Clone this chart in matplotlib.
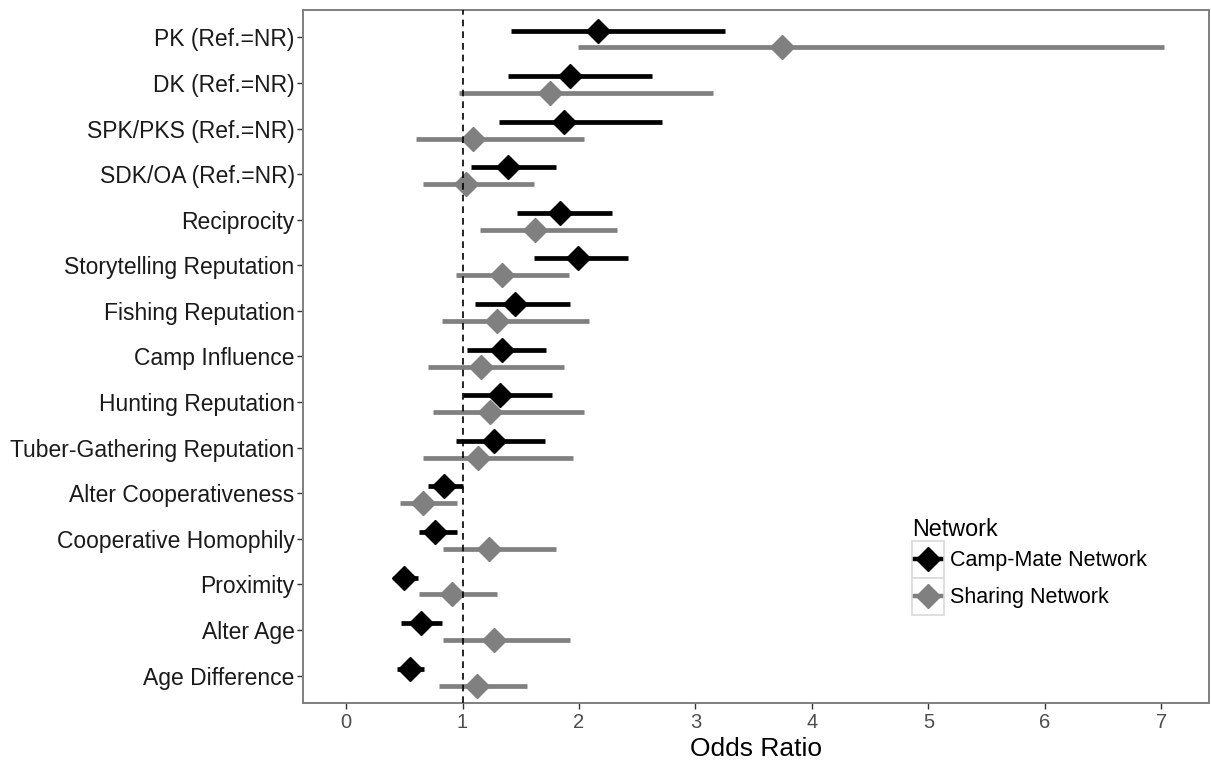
import matplotlib.pyplot as plt
from matplotlib.legend_handler import HandlerBase
from matplotlib.patches import Rectangle
from matplotlib.lines import Line2D

plt.rcParams['font.family'] = ['Liberation Sans', 'DejaVu Sans']

# predictors, top to bottom
predictors = ['PK (Ref.=NR)', 'DK (Ref.=NR)', 'SPK/PKS (Ref.=NR)', 'SDK/OA (Ref.=NR)',
              'Reciprocity', 'Storytelling Reputation', 'Fishing Reputation',
              'Camp Influence', 'Hunting Reputation', 'Tuber-Gathering Reputation',
              'Alter Cooperativeness', 'Cooperative Homophily', 'Proximity',
              'Alter Age', 'Age Difference']

# camp-mate network: odds ratio and 95% CI
camp_or = [2.16, 1.92, 1.87, 1.39, 1.84, 1.99, 1.45, 1.34, 1.32, 1.27, 0.84, 0.76, 0.50, 0.64, 0.55]
camp_lo = [1.42, 1.39, 1.31, 1.07, 1.47, 1.61, 1.11, 1.04, 1.00, 0.94, 0.70, 0.63, 0.40, 0.47, 0.44]
camp_hi = [3.25, 2.63, 2.71, 1.80, 2.28, 2.42, 1.92, 1.72, 1.77, 1.71, 1.00, 0.95, 0.62, 0.82, 0.67]

# sharing network: odds ratio and 95% CI
share_or = [3.74, 1.75, 1.09, 1.03, 1.62, 1.34, 1.30, 1.16, 1.24, 1.13, 0.66, 1.23, 0.91, 1.27, 1.12]
share_lo = [1.99, 0.97, 0.60, 0.66, 1.15, 0.94, 0.82, 0.70, 0.75, 0.66, 0.46, 0.83, 0.63, 0.83, 0.80]
share_hi = [7.02, 3.15, 2.04, 1.61, 2.33, 1.91, 2.09, 1.87, 2.04, 1.95, 0.95, 1.80, 1.30, 1.92, 1.55]

series = [
    ('Camp-Mate Network', camp_or, camp_lo, camp_hi, 'black', -0.15),
    ('Sharing Network', share_or, share_lo, share_hi, '#808080', 0.22),
]


class BoxedKey(HandlerBase):
    # legend key: light grey box with a diamond sitting on a short bar
    def create_artists(self, legend, orig_handle, xdescent, ydescent,
                       width, height, fontsize, trans):
        x0, y0 = -xdescent, -ydescent
        box = Rectangle((x0, y0), width, height, facecolor='white',
                        edgecolor='#d9d9d9', lw=1.2, transform=trans)
        yc = y0 + height / 2
        bar = Line2D([x0 + 2, x0 + width - 2], [yc, yc],
                     color=orig_handle.get_color(), lw=3.2, transform=trans)
        mk = Line2D([x0 + width / 2], [yc], marker='D',
                    color=orig_handle.get_color(), markersize=12, lw=0,
                    transform=trans)
        return [box, bar, mk]


fig = plt.figure(figsize=(12.11, 7.62), dpi=100)
ax = fig.add_axes([303 / 1211, 59 / 762, 906 / 1211, 693 / 762])

n = len(predictors)
ypos = [n - i for i in range(n)]

handles = []
for name, est, lo, hi, col, off in series:
    yy = [y - off for y in ypos]
    xerr = [[e - l for e, l in zip(est, lo)], [h - e for e, h in zip(est, hi)]]
    ax.errorbar(est, yy, xerr=xerr, fmt='none', ecolor=col, elinewidth=3.4,
                capsize=0, zorder=2)
    ax.plot(est, yy, 'D', color=col, markersize=12.5, zorder=3)
    handles.append(Line2D([], [], color=col, label=name))

ax.axvline(1, color='black', lw=1.2, ls=(0, (4, 3)), zorder=4)

ax.set_xlim(-0.37, 7.41)
ax.set_ylim(0.4, n + 0.6)
ax.set_xticks(range(0, 8))
ax.set_yticks(ypos)
ax.set_yticklabels(predictors, fontsize=16.5)
ax.tick_params(axis='x', labelsize=14.5, colors='#333333', length=4, width=1, pad=3)
ax.tick_params(axis='y', colors='#333333', length=4, width=1, pad=2)
for lab in ax.get_yticklabels():
    lab.set_color('#1a1a1a')
for lab in ax.get_xticklabels():
    lab.set_color('#4d4d4d')
ax.set_xlabel('Odds Ratio', fontsize=19, labelpad=4)

for sp in ax.spines.values():
    sp.set_color('#7f7f7f')
    sp.set_linewidth(1.4)

leg = ax.legend(handles=handles, title='Network', frameon=False,
                handler_map={Line2D: BoxedKey()},
                loc='upper left', bbox_to_anchor=(0.672, 0.267),
                fontsize=15.5, title_fontsize=16.8, handlelength=1.5,
                handleheight=2.26, handletextpad=0.25, labelspacing=0.0,
                borderaxespad=0, borderpad=0)
leg._legend_box.align = 'left'

fig.savefig('out.png', dpi=100)
